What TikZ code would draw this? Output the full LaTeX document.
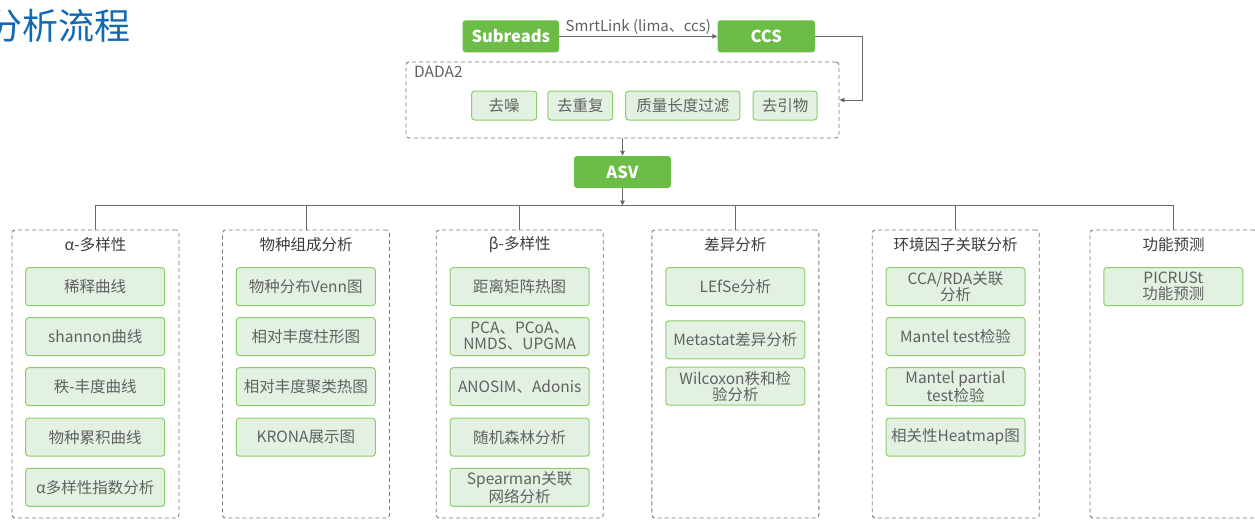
\documentclass[tikz,border=0pt]{standalone}
\usepackage{fontspec}
\setmainfont{Noto Sans CJK SC}
\usetikzlibrary{arrows.meta}
\definecolor{ttl}{HTML}{1368B4}
\definecolor{mgreen}{HTML}{6CBD45}
\definecolor{sgreen}{HTML}{8BCE68}
\definecolor{sfill}{HTML}{E3F1E3}
\definecolor{txt}{HTML}{616161}
\definecolor{htxt}{HTML}{3C3C3C}
\definecolor{dgrey}{HTML}{7A7A7A}
\definecolor{cgrey}{HTML}{6A6A6A}
\begin{document}
\begin{tikzpicture}[x=1pt,y=-1pt,
  mainbox/.style={fill=mgreen, rounded corners=3pt, text=white, font=\fontsize{16.5}{17}\selectfont\bfseries, minimum height=32pt, inner sep=0pt},
  subbox/.style={draw=sgreen, line width=1pt, fill=sfill, rounded corners=3pt, text=txt, font=\fontsize{15.5}{16}\selectfont, minimum width=139pt, minimum height=38pt, inner sep=0pt, align=center},
  dbox/.style={subbox, minimum height=29pt, font=\fontsize{15.5}{16}\selectfont},
  panel/.style={draw=dgrey, dash pattern=on 4pt off 3pt, line width=0.9pt, rounded corners=3pt, minimum width=167pt, minimum height=288pt, inner sep=0pt},
  ptitle/.style={text=htxt, font=\fontsize{15.5}{16}\selectfont, inner sep=0pt},
  conn/.style={draw=cgrey, line width=0.9pt},
  arr/.style={conn, -{Triangle[length=5pt,width=4.5pt]}}
]
\useasboundingbox (0,0) rectangle (1255,520);

% title
\node[anchor=east, inner sep=0pt, font=\fontsize{36}{36}\selectfont, text=ttl] (title) at (131,26) {分析流程};

% top row
\node[mainbox, minimum width=96.5pt] (sub) at (510.8,36.3) {Subreads};
\node[mainbox, minimum width=97.5pt] (ccs) at (766.3,36.3) {CCS};
\draw[arr] (sub) -- node[above=1pt, font=\fontsize{15}{16}\selectfont, text=txt, inner sep=0pt] {SmrtLink (lima、ccs)} (ccs);

% DADA2 box
\node[panel, minimum width=433pt, minimum height=76pt] (dada) at (622.5,100) {};
\node[anchor=north west, ptitle, text=txt] (dadat) at (414,66) {DADA2};
\node[dbox, minimum width=65pt] (d1) at (504.2,105.5) {去噪};
\node[dbox, minimum width=64.7pt] (d2) at (580.3,105.5) {去重复};
\node[dbox, minimum width=114.3pt] (d3) at (682.8,105.5) {质量长度过滤};
\node[dbox, minimum width=64pt] (d4) at (785,105.5) {去引物};

\coordinate (ccsr) at (862,36.3);
\draw[arr] (ccs.east) -- (ccsr) |- (dada.east);

% ASV
\node[mainbox, minimum width=97pt] (asv) at (622.5,172) {ASV};
\draw[arr] (dada.south) -- (asv.north);

% panels
\node[panel] (p1) at (95.5,374) {};
\node[panel] (p2) at (306,374) {};
\node[panel] (p3) at (519.7,374) {};
\node[panel] (p4) at (735.3,374) {};
\node[panel] (p5) at (955.7,374) {};
\node[panel] (p6) at (1173.5,374) {};

\coordinate (bus) at (622.5,205.5);
\draw[arr] (asv.south) -- (bus);
\draw[conn] (p1.north) |- (bus) -| (p6.north);
\foreach \p in {p2,p3,p4,p5} {\draw[conn] (\p.north) -- (\p.north |- bus);}

% panel titles
\node[ptitle] (t1) at (95.5,245) {α-多样性};
\node[ptitle] (t2) at (306,245) {物种组成分析};
\node[ptitle] (t3) at (519.7,245) {β-多样性};
\node[ptitle] (t4) at (735.3,245) {差异分析};
\node[ptitle] (t5) at (955.7,245) {环境因子关联分析};
\node[ptitle] (t6) at (1173.5,245) {功能预测};

% panel 1
\node[subbox] (a1) at (95.2,286.7) {稀释曲线};
\node[subbox] (a2) at (95.2,336.5) {shannon曲线};
\node[subbox] (a3) at (95.2,386.7) {秩-丰度曲线};
\node[subbox] (a4) at (95.2,437.2) {物种累积曲线};
\node[subbox] (a5) at (95.2,487.3) {α多样性指数分析};

% panel 2
\node[subbox] (b1) at (305.8,286.7) {物种分布Venn图};
\node[subbox] (b2) at (305.8,336.5) {相对丰度柱形图};
\node[subbox] (b3) at (305.8,386.7) {相对丰度聚类热图};
\node[subbox] (b4) at (305.8,437.2) {KRONA展示图};

% panel 3
\node[subbox] (c1) at (519.7,286.7) {距离矩阵热图};
\node[subbox] (c2) at (519.7,336.5) {PCA、PCoA、\\NMDS、UPGMA};
\node[subbox] (c3) at (519.7,386.7) {ANOSIM、Adonis};
\node[subbox] (c4) at (519.7,437.2) {随机森林分析};
\node[subbox] (c5) at (519.7,487.3) {Spearman关联\\网络分析};

% panel 4
\node[subbox] (e1) at (735.3,286.7) {LEfSe分析};
\node[subbox] (e2) at (735.3,339.8) {Metastat差异分析};
\node[subbox] (e3) at (735.3,386.2) {Wilcoxon秩和检\\验分析};

% panel 5
\node[subbox] (f1) at (955.5,286.7) {CCA/RDA关联\\分析};
\node[subbox] (f2) at (955.5,336.5) {Mantel test检验};
\node[subbox] (f3) at (955.5,386.7) {Mantel partial\\test检验};
\node[subbox] (f4) at (955.5,437.2) {相关性Heatmap图};

% panel 6
\node[subbox] (g1) at (1173.3,286.7) {PICRUSt\\功能预测};
\end{tikzpicture}
\end{document}
